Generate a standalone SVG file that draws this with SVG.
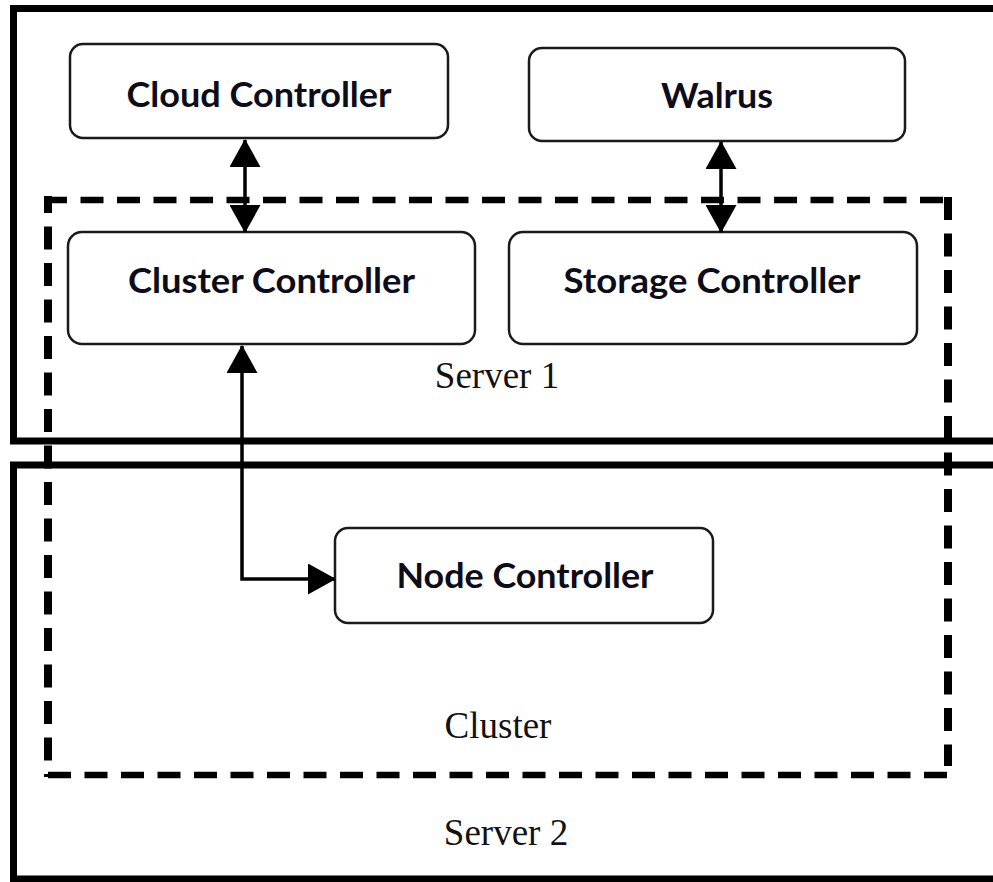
<svg xmlns="http://www.w3.org/2000/svg" width="993" height="882" viewBox="0 0 993 882">
  <style>
    .server { fill: none; stroke: #000; stroke-width: 7; }
    .cluster-h { fill: none; stroke: #000; stroke-width: 6.5; stroke-dasharray: 23 13.5; }
    .cluster-v { fill: none; stroke: #000; stroke-width: 8; stroke-dasharray: 23 13.5; }
    .node rect { fill: #fff; stroke: #1a1a1a; stroke-width: 2.5; }
    .node text { font-family: Lato, "Open Sans", "Liberation Sans", sans-serif; font-weight: 700; font-size: 34px; fill: #0d0d1a; text-anchor: middle; }
    .label { font-family: "Liberation Serif", "Times New Roman", serif; font-size: 37px; fill: #111; text-anchor: middle; }
    .link { fill: none; stroke: #000; stroke-width: 3.5; }
  </style>
  <defs>
    <marker id="head" viewBox="0 0 28 31" refX="27" refY="15.5" markerWidth="28" markerHeight="31" markerUnits="userSpaceOnUse" orient="auto-start-reverse">
      <path d="M0,0 L28,15.5 L0,31 Z" fill="#000"/>
    </marker>
  </defs>

  <rect width="993" height="882" fill="#fff"/>

  <!-- physical servers (open on the right edge) -->
  <g id="server1">
    <path class="server" d="M1000,8.5 H13.5 V441 H1000"/>
    <text class="label" x="497" y="388">Server 1</text>
  </g>
  <g id="server2">
    <path class="server" d="M1000,465 H13.5 V879 H1000"/>
    <text class="label" x="506" y="845">Server 2</text>
  </g>

  <!-- logical cluster boundary -->
  <g id="cluster">
    <line class="cluster-h" x1="44" y1="200" x2="948" y2="200"/>
    <line class="cluster-h" x1="48" y1="775" x2="950" y2="775"/>
    <line class="cluster-v" x1="48" y1="196" x2="48" y2="777" stroke-dashoffset="6"/>
    <line class="cluster-v" x1="948" y1="197" x2="948" y2="766"/>
    <text class="label" x="498" y="738">Cluster</text>
  </g>

  <!-- components -->
  <g id="cloud-controller" class="node">
    <rect x="70" y="44" width="378" height="94" rx="13"/>
    <text x="259" y="107" textLength="265" lengthAdjust="spacingAndGlyphs">Cloud Controller</text>
  </g>
  <g id="walrus" class="node">
    <rect x="529" y="48" width="376" height="93" rx="13"/>
    <text x="717" y="108" textLength="112" lengthAdjust="spacingAndGlyphs">Walrus</text>
  </g>
  <g id="cluster-controller" class="node">
    <rect x="68" y="232" width="407" height="112" rx="14"/>
    <text x="271.5" y="293" textLength="287" lengthAdjust="spacingAndGlyphs">Cluster Controller</text>
  </g>
  <g id="storage-controller" class="node">
    <rect x="509" y="232" width="408" height="112" rx="14"/>
    <text x="712" y="293" textLength="297" lengthAdjust="spacingAndGlyphs">Storage Controller</text>
  </g>
  <g id="node-controller" class="node">
    <rect x="335" y="528" width="378" height="95" rx="13"/>
    <text x="525" y="588" textLength="257" lengthAdjust="spacingAndGlyphs">Node Controller</text>
  </g>

  <!-- connectors -->
  <g id="connectors">
    <line class="link" x1="245" y1="140" x2="245" y2="232" marker-start="url(#head)" marker-end="url(#head)"/>
    <line class="link" x1="721" y1="142" x2="721" y2="232" marker-start="url(#head)" marker-end="url(#head)"/>
    <path class="link" d="M242,346 V579 H335" marker-start="url(#head)" marker-end="url(#head)"/>
  </g>
</svg>
